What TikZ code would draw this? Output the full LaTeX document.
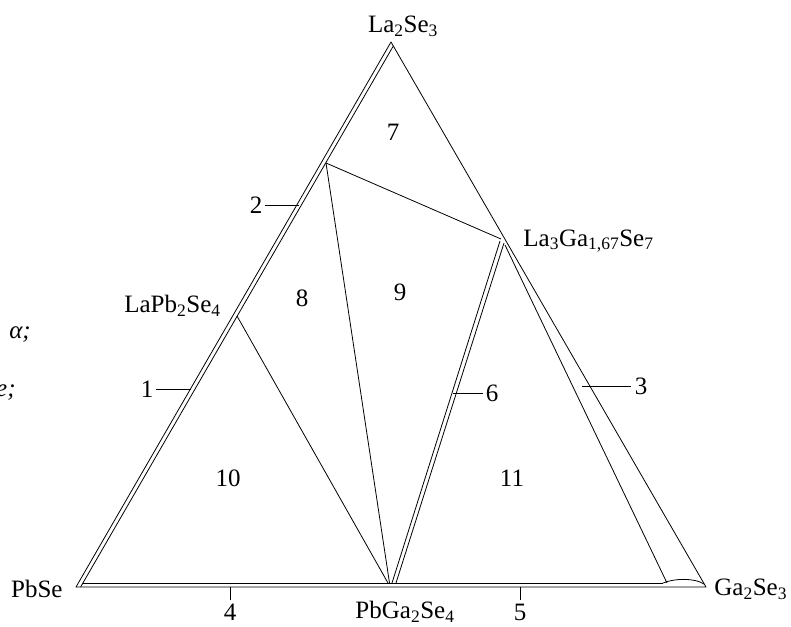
\documentclass[tikz,border=0pt]{standalone}
\usepackage{fontspec}
\setmainfont{Liberation Serif}
\begin{document}
\begin{tikzpicture}[x=1pt,y=-1pt,line width=0.8pt,line join=round,
  lab/.style={inner sep=0pt,font=\fontsize{25}{28}\selectfont},
  num/.style={inner sep=0pt,font=\fontsize{25}{28}\selectfont}]
\useasboundingbox (0,0) rectangle (791,626);
% corners
\coordinate (A) at (391,42);
\coordinate (B) at (76,587);
\coordinate (C) at (706,587);
% inner points
\coordinate (Ai) at (393.3,46);
\coordinate (Bi) at (80.6,587);
\coordinate (Bb) at (82.9,583);
\coordinate (Cb) at (663,583);
\coordinate (Ce) at (704,584);
\coordinate (T) at (326,163);
\coordinate (L) at (237,316);
\coordinate (Q) at (501,239);
\coordinate (M1) at (388,583);
\coordinate (M2) at (389.5,583);
\coordinate (M3) at (392,583);
\coordinate (M4) at (396,583);
\coordinate (Q1) at (500,241);
\coordinate (Q2) at (504,243);
\coordinate (Q3) at (505,245);
\coordinate (R3) at (667,583);
% outer triangle
\draw (B) -- (A) -- (C) -- cycle;
% double lines
\draw (Bi) -- (Ai);
\draw (Bb) -- (Cb);
\draw (Cb) .. controls (675,578) and (695,578) .. (Ce);
\draw (Q3) -- (R3);
\draw (M3) -- (Q1);
\draw (M4) -- (Q2);
% tie lines
\draw (T) -- (Q);
\draw (T) -- (M2);
\draw (L) -- (M1);
% compound labels
\node[lab] (la2se3) at (403,26) {La\textsubscript{2}Se\textsubscript{3}};
\node[lab,anchor=east] (lapb) at (221,306) {LaPb\textsubscript{2}Se\textsubscript{4}};
\node[lab,anchor=west] (lagase) at (523,241) {La\textsubscript{3}Ga\textsubscript{1,67}Se\textsubscript{7}};
\node[lab,anchor=east] (pbse) at (63,589) {PbSe};
\node[lab,anchor=west] (ga2se3) at (714,589) {Ga\textsubscript{2}Se\textsubscript{3}};
\node[lab] (pbga) at (405,612) {PbGa\textsubscript{2}Se\textsubscript{4}};
\node[lab] (alpha) at (20,335) {\itshape α;};
\node[lab,anchor=east] (eee) at (16,393) {\itshape e;};
% region numbers
\node[num] (r7) at (393,132) {7};
\node[num] (r8) at (302,298) {8};
\node[num] (r9) at (400,292) {9};
\node[num] (r10) at (228,478) {10};
\node[num] (r11) at (512,478) {11};
% leader labels
\node[num] (n1) at (147,389) {1};
\node[num] (n2) at (256,205) {2};
\node[num] (n3) at (641,386) {3};
\node[num] (n4) at (230,612) {4};
\node[num] (n5) at (520,612) {5};
\node[num] (n6) at (492,393) {6};
\coordinate (e1) at (190.5,389);
\coordinate (e2) at (299,205);
\coordinate (e3) at (582,386);
\coordinate (e4) at (230,587);
\coordinate (e5) at (520,587);
\coordinate (e6) at (453,393);
\draw (n1.east) ++(2,0) -- (e1);
\draw (n2.east) ++(2,0) -- (e2);
\draw (e3) -- ([xshift=-3pt]n3.west);
\draw (e4) -- ([yshift=3pt]n4.north);
\draw (e5) -- ([yshift=3pt]n5.north);
\draw (e6) -- ([xshift=-2pt]n6.west);
\end{tikzpicture}
\end{document}
